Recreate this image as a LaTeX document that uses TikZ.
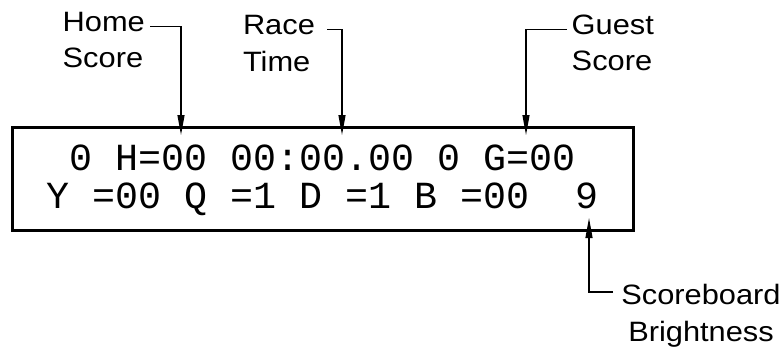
\documentclass[tikz,border=0pt]{standalone}
\usepackage{fontspec}
\newfontfamily\lblfont[FakeStretch=1.1]{Liberation Sans}
\newfontfamily\lcdfont{Liberation Mono}
\usetikzlibrary{arrows.meta}
\begin{document}
\begin{tikzpicture}[x=1pt,y=-1pt,
  lbl/.style={font=\lblfont\fontsize{28}{36.6}\selectfont, inner sep=0pt, align=left},
  lcd/.style={font=\lcdfont\fontsize{38.33}{38}\selectfont, inner sep=0pt, anchor=base west},
  conn/.style={line width=1.2pt, -{Triangle[length=20pt,width=7pt]}},
  frame/.style={draw, line width=3pt, inner sep=0pt}]
\useasboundingbox (0,0) rectangle (783,348);
\node[frame, minimum width=621.5pt, minimum height=103.3pt] (display) at (322.75,178.65) {};
\node[lcd] (row1) at (46.5,170) {~0~H=00~00:00.00~0~G=00};
\node[lcd] (row2) at (46.5,208) {Y~=00~Q~=1~D~=1~B~=00~~9};
\node[lbl, anchor=north west] (home) at (62.5,11.7) {Home\\Score};
\node[lbl, anchor=north west] (race) at (242.8,15) {Race\\Time};
\node[lbl, anchor=north west] (guest) at (571.5,14.5) {Guest\\Score};
\node[lbl, align=center, anchor=north] (bright) at (701,284.5) {Scoreboard\\Brightness};
\coordinate (homeS) at (150,26.7);
\coordinate (homeT) at (181,135);
\coordinate (raceS) at (327,29.3);
\coordinate (raceT) at (342,135);
\coordinate (guestS) at (567,29.3);
\coordinate (guestT) at (526,135);
\coordinate (brightS) at (613,292);
\coordinate (brightT) at (589,218);
\draw[conn] (homeS) -| (homeT);
\draw[conn] (raceS) -| (raceT);
\draw[conn] (guestS) -| (guestT);
\draw[conn] (brightS) -| (brightT);
\end{tikzpicture}
\end{document}
